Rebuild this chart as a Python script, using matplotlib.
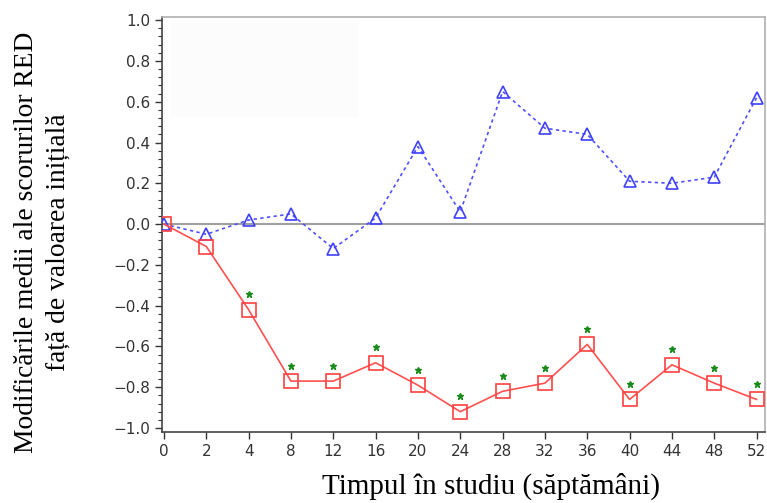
import numpy as np
import matplotlib.pyplot as plt
from matplotlib.ticker import MultipleLocator, AutoMinorLocator
from matplotlib.patches import Rectangle

weeks = ['0', '2', '4', '8', '12', '16', '20', '24', '28', '32', '36', '40', '44', '48', '52']
blue_vals = [0.0, -0.05, 0.02, 0.05, -0.12, 0.03, 0.38, 0.06, 0.65, 0.47, 0.44, 0.21, 0.20, 0.23, 0.62]
red_vals = [0.0, -0.11, -0.42, -0.77, -0.77, -0.68, -0.79, -0.92, -0.82, -0.78, -0.59, -0.86, -0.69, -0.78, -0.86]
signif = [False, False] + [True] * 13

x = np.arange(len(weeks))

fig = plt.figure(figsize=(7.67, 5.03), dpi=100)
ax = fig.add_axes([0.211, 0.141, 0.787, 0.825])

# faint leftover box (erased legend)
ax.add_patch(Rectangle((0.016, 0.76), 0.31, 0.23, transform=ax.transAxes,
                       facecolor='#fcfcfc', edgecolor='none', zorder=0))

ax.axhline(0, color='#a0a0a0', lw=1.5, zorder=1)

ax.plot(x, blue_vals, color='#5050ff', ls=(0, (2, 2)), lw=1.2,
        marker='^', ms=9, mfc='none', mec='#4040ff', mew=1.2, zorder=3)
ax.plot(x, red_vals, color='#ff5050', ls='-', lw=1.2,
        marker='s', ms=10, mfc='none', mec='#ff4040', mew=1.2, zorder=3)

sx = [xi for xi, s in zip(x, signif) if s]
sy = [v + 0.075 for v, s in zip(red_vals, signif) if s]
ax.plot(sx, sy, ls='none', marker='*', ms=5, color='#1a8a1a', zorder=4)

ax.set_xlim(-0.05, 14.21)
ax.set_ylim(-1.02, 1.015)
ax.set_xticks(x)
ax.set_xticklabels(weeks)
ax.yaxis.set_major_locator(MultipleLocator(0.2))
ax.yaxis.set_minor_locator(AutoMinorLocator(5))
ax.yaxis.set_major_formatter(plt.FuncFormatter(lambda v, p: f'{v:.1f}'.replace('-', '\u2212')))

ax.tick_params(axis='both', labelsize=11, colors='#333333', direction='out', length=5, width=1)
ax.tick_params(axis='y', which='minor', length=3, width=0.8, colors='#333333')
for side in ['left', 'bottom']:
    ax.spines[side].set_color('#444444')
    ax.spines[side].set_linewidth(1.2)
for side in ['top', 'right']:
    ax.spines[side].set_color('#b0b0b0')
    ax.spines[side].set_linewidth(1.2)

ax.set_xlabel('Timpul în studiu (săptămâni)', family='Liberation Serif', fontsize=21)
ax.xaxis.set_label_coords(0.545, -0.098)
ax.set_ylabel('Modificările medii ale scorurilor RED\nfață de valoarea inițială',
              family='Liberation Serif', fontsize=19.8, linespacing=1.3)
ax.yaxis.set_label_coords(-0.152, 0.458)

fig.savefig('out.png', dpi=100)
